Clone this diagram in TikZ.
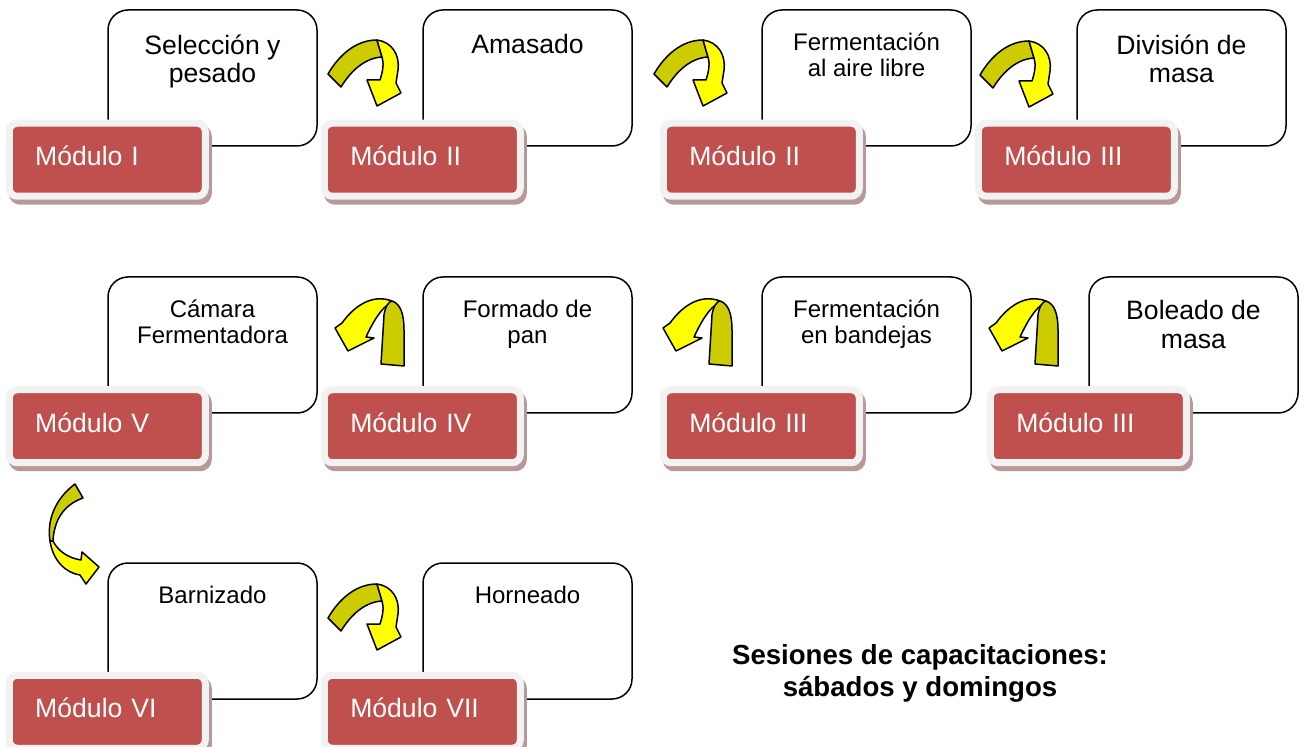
\documentclass[tikz,border=0pt]{standalone}
\usepackage{fontspec}
\setmainfont{Liberation Sans}
\usepackage{xcolor}
\definecolor{rojomodulo}{RGB}{192, 80, 77}
\definecolor{bordemodulo}{RGB}{242, 242, 242}
\definecolor{sombramodulo}{RGB}{184, 152, 152}
\definecolor{amarillo}{RGB}{255, 255, 0}
\definecolor{oliva}{RGB}{204, 204, 0}
\usepackage{tikz}
\usetikzlibrary{positioning, shadows}
\tikzset{
    etapabox/.style={
        draw=black,
        fill=white,
        line width=0.75pt,
        rounded corners=10pt,
        minimum width=104.5pt,
        minimum height=68pt
    },
    etapatext/.style={
        align=center,
        inner sep=0pt,
        font=\fontsize{13.3}{14.2}\selectfont
    },
    etapasmall/.style={
        align=center,
        inner sep=0pt,
        font=\fontsize{12}{13.3}\selectfont
    },
    modulobox/.style={
        fill=rojomodulo,
        draw=bordemodulo,
        line width=3.5pt,
        rounded corners=4pt,
        text width=72pt,
        inner xsep=13pt,
        minimum height=36.5pt,
        text height=9pt,
        text depth=3pt,
        align=left,
        text=white,
        font=\fontsize{13.3}{16}\selectfont,
        drop shadow={shadow xshift=1.5pt, shadow yshift=-2.5pt,
            opacity=1, fill=sombramodulo, draw=sombramodulo, line width=3.5pt}
    },
    flechaback/.style={
        fill=oliva,
        draw=black,
        line width=0.75pt,
        line join=round
    },
    flechafront/.style={
        fill=amarillo,
        draw=black,
        line width=0.75pt,
        line join=round
    },
    % curved arrow, head pointing down on the right
    flechabaja/.pic={
        \path[flechaback] (3,44) .. controls (14,25) and (31,10) .. (52,10)
            -- (57,27) .. controls (41,28) and (27,39) .. (16,57) -- cycle;
        \path[flechafront] (52,10) .. controls (67,12) and (75,25) .. (73,40)
            -- (71,53) -- (76,63) -- (52,76) -- (42,50) -- (55,50)
            .. controls (58,41) and (59,33) .. (57,27) -- cycle;
    },
    % curved arrow, head pointing down on the left
    flecharegresa/.pic={
        \path[flechafront] (86,41) .. controls (70,35) and (52,41) .. (36,63)
            -- (29,68) -- (42,91) -- (68,78) -- (60,77)
            .. controls (66,64) and (72,54) .. (78,48) -- cycle;
        \path[flechaback] (75,104) -- (78,55) .. controls (79,47) and (83,41) .. (86,41)
            .. controls (95,44) and (98,55) .. (98,70) -- (98,106) -- cycle;
    },
    % curved arrow going down the left side
    flechalado/.pic={
        \path[flechaback] (45,9) .. controls (30,20) and (16,40) .. (20,66)
            -- (23,66) .. controls (24,46) and (33,30) .. (53,23) -- cycle;
        \path[flechafront] (20,66) .. controls (23,86) and (36,98) .. (50,100)
            -- (56,109) -- (69,92) -- (52,77) -- (51,85)
            .. controls (38,83) and (28,76) .. (23,66) -- cycle;
    }
}

\begin{document}
\begin{tikzpicture}[x=0.5pt, y=-0.5pt]
\useasboundingbox (0,0) rectangle (1304,747);

% ---------------------------------------------------------
% Etapas (white boxes)
% ---------------------------------------------------------

% Row 1
\node[etapabox] (e1) at (212.5,78) {};
\node[etapabox] (e2) at (527.5,78) {};
\node[etapabox] (e3) at (866.5,78) {};
\node[etapabox] (e4) at (1181.5,78) {};

% Row 2
\node[etapabox] (e5) at (212.5,345) {};
\node[etapabox] (e6) at (527.5,345) {};
\node[etapabox] (e7) at (866.5,345) {};
\node[etapabox] (e8) at (1193.5,345) {};

% Row 3
\node[etapabox] (e9) at (212.5,631) {};
\node[etapabox] (e10) at (527.5,631) {};

% Texts
\node[etapatext, below=12.5pt of e1.north] (t1) {Selección y\\pesado};
\node[etapatext, below=12.5pt of e2.north] (t2) {Amasado};
\node[etapasmall, below=11.5pt of e3.north] (t3) {Fermentación\\al aire libre};
\node[etapatext, below=12.5pt of e4.north] (t4) {División de\\masa};
\node[etapasmall, below=11.5pt of e5.north] (t5) {Cámara\\Fermentadora};
\node[etapasmall, below=11.5pt of e6.north] (t6) {Formado de\\pan};
\node[etapasmall, below=11.5pt of e7.north] (t7) {Fermentación\\en bandejas};
\node[etapatext, below=12pt of e8.north] (t8) {Boleado de\\masa};
\node[etapasmall, below=11.5pt of e9.north] (t9) {Barnizado};
\node[etapasmall, below=11.5pt of e10.north] (t10) {Horneado};

% ---------------------------------------------------------
% Modulos (red boxes)
% ---------------------------------------------------------

\node[modulobox] (m1) at ([yshift=-6.5pt]e1.south west) {Módulo I};
\node[modulobox] (m2) at ([yshift=-6.5pt]e2.south west) {Módulo II};
\node[modulobox] (m3) at ([yshift=-6.5pt]e3.south west) {Módulo II};
\node[modulobox] (m4) at ([yshift=-6.5pt]e4.south west) {Módulo III};
\node[modulobox] (m5) at ([yshift=-6.25pt]e5.south west) {Módulo V};
\node[modulobox] (m6) at ([yshift=-6.25pt]e6.south west) {Módulo IV};
\node[modulobox] (m7) at ([yshift=-6.25pt]e7.south west) {Módulo III};
\node[modulobox] (m8) at ([yshift=-6.25pt]e8.south west) {Módulo III};
\node[modulobox] (m9) at ([yshift=-6pt]e9.south west) {Módulo VI};
\node[modulobox] (m10) at ([yshift=-6pt]e10.south west) {Módulo VII};

% ---------------------------------------------------------
% Arrows
% ---------------------------------------------------------

\pic (f1) at (325,30) {flechabaja};
\pic (f2) at (651,30) {flechabaja};
\pic (f3) at (977,31) {flechabaja};
\pic (f4) at (306,260) {flecharegresa};
\pic (f5) at (634,260) {flecharegresa};
\pic (f6) at (960,260) {flecharegresa};
\pic (f7) at (30,475) {flechalado};
\pic (f8) at (325,574) {flechabaja};

% Sessions note
\node[align=center, font=\bfseries\fontsize{13.8}{16}\selectfont] (sesiones)
    at (920,673) {Sesiones de capacitaciones:\\sábados y domingos};

\end{tikzpicture}
\end{document}
